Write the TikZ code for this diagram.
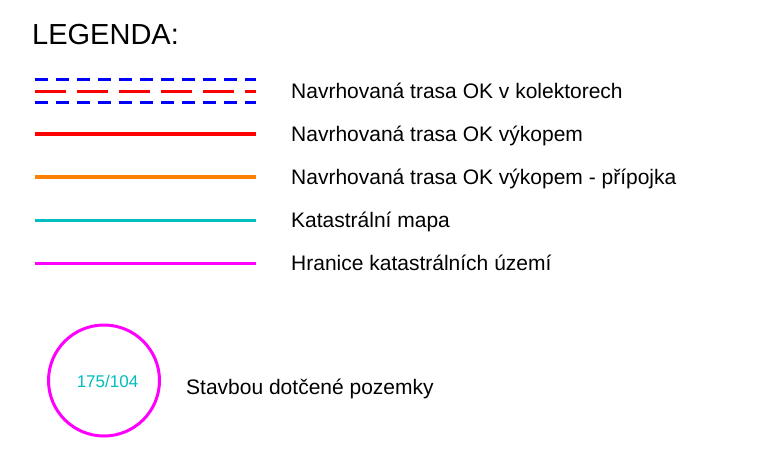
\documentclass[tikz,border=0pt]{standalone}
\usepackage{fontspec}
\setmainfont{Liberation Sans}
\definecolor{cblue}{RGB}{0,0,255}
\definecolor{cred}{RGB}{255,0,0}
\definecolor{corange}{RGB}{255,128,0}
\definecolor{ccyan}{RGB}{0,190,190}
\definecolor{cmag}{RGB}{255,0,255}
\begin{document}
\begin{tikzpicture}[x=1pt,y=-1pt,
  lbl/.style={anchor=base west,inner sep=0pt,font=\fontsize{21}{25}\selectfont},
  bluedash/.style={draw=cblue,line width=3pt,dash pattern=on 13pt off 8pt},
  reddash/.style={draw=cred,line width=3pt,dash pattern=on 31pt off 11pt},
  pt/.style={inner sep=0pt,minimum size=0pt}]
\useasboundingbox[fill=white] (0,0) rectangle (783,450);
\node[anchor=base west,inner sep=0pt,font=\fontsize{29}{34}\selectfont] (title) at (32,44) {LEGENDA:};
% row 1
\coordinate (a1) at (35,79); \coordinate (b1) at (256,79);
\coordinate (a2) at (35,91); \coordinate (b2) at (256,91);
\coordinate (a3) at (35,102); \coordinate (b3) at (256,102);
\draw[bluedash] (a1) -- (b1);
\draw[reddash] (a2) -- (b2);
\draw[bluedash] (a3) -- (b3);
\node[lbl] (t1) at (291,98) {Navrhovaná trasa OK v kolektorech};
% row 2
\coordinate (c1) at (35,134); \coordinate (d1) at (256,134);
\draw[cred,line width=4.5pt] (c1) -- (d1);
\node[lbl] (t2) at (291,141) {Navrhovaná trasa OK výkopem};
% row 3
\coordinate (c2) at (35,177); \coordinate (d2) at (256,177);
\draw[corange,line width=4pt] (c2) -- (d2);
\node[lbl] (t3) at (291,184) {Navrhovaná trasa OK výkopem - přípojka};
% row 4
\coordinate (c3) at (35,220); \coordinate (d3) at (256,220);
\draw[ccyan,line width=3pt] (c3) -- (d3);
\node[lbl] (t4) at (291,227) {Katastrální mapa};
% row 5
\coordinate (c4) at (35,263); \coordinate (d4) at (256,263);
\draw[cmag,line width=3pt] (c4) -- (d4);
\node[lbl] (t5) at (291,270) {Hranice katastrálních území};
% circle
\node[circle,draw=cmag,line width=3pt,minimum size=111pt,inner sep=0pt] (circ) at (104,380.5) {};
\node[anchor=base,inner sep=0pt,text=ccyan,font=\fontsize{17}{20}\selectfont] (num) at (107.5,387.3) {175/104};
\node[anchor=base west,inner sep=0pt,font=\fontsize{21}{25}\selectfont] (t6) at (186,394) {Stavbou dotčené pozemky};
\end{tikzpicture}
\end{document}
